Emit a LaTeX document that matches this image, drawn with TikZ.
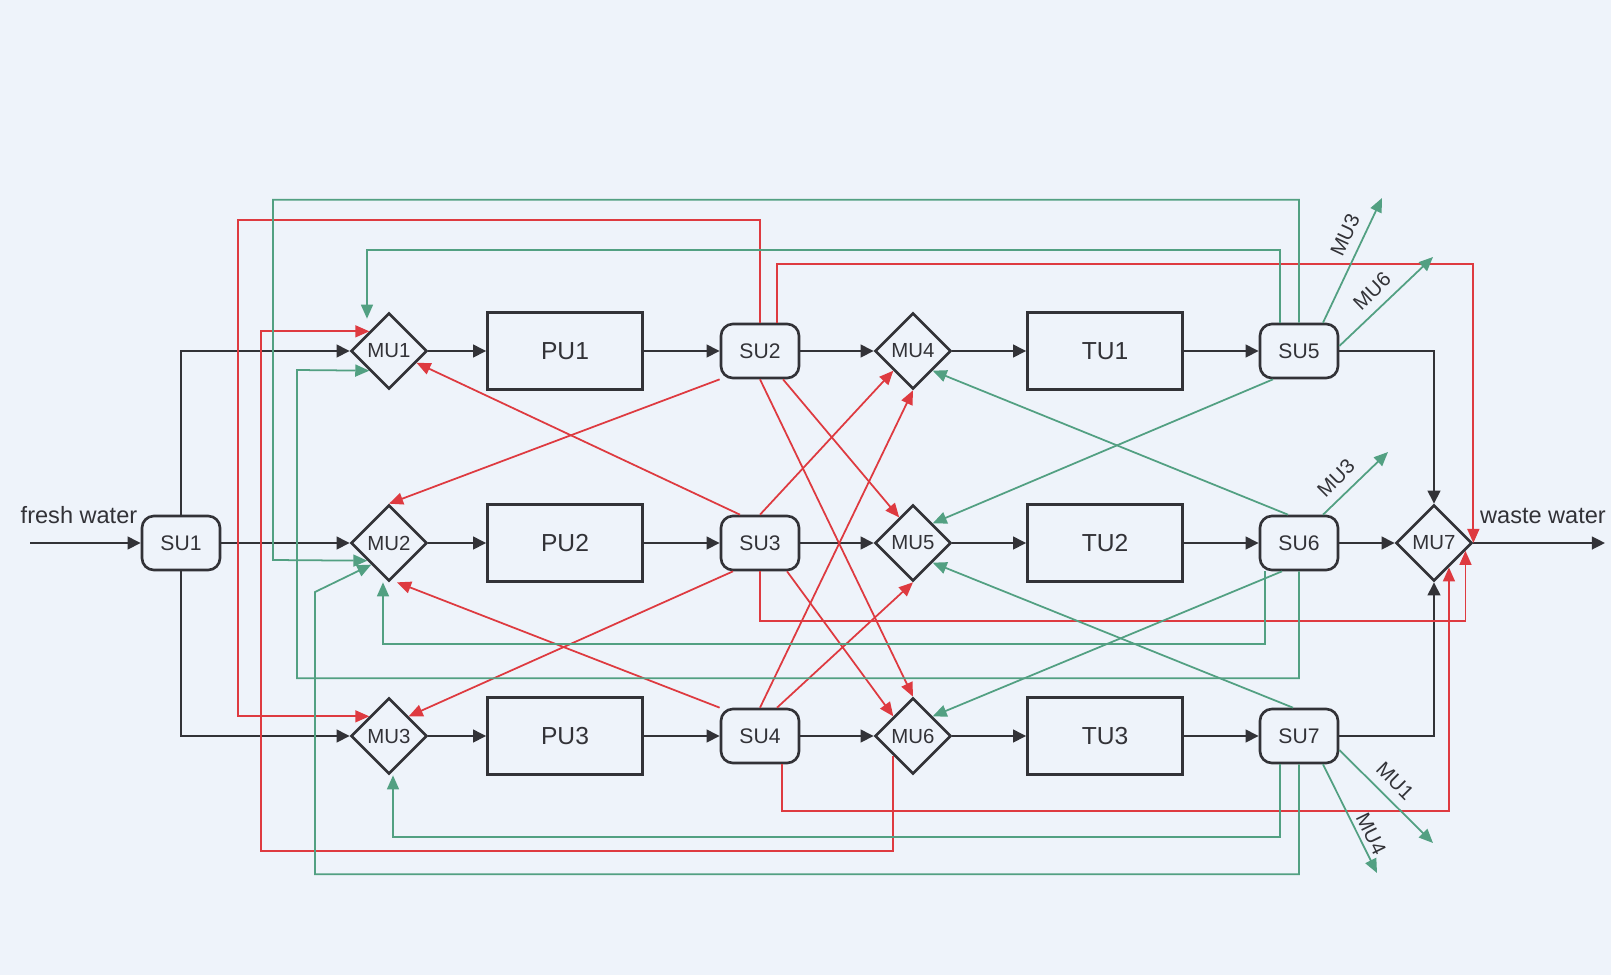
\documentclass[tikz,border=0pt]{standalone}
\usepackage{fontspec}
\setmainfont{Liberation Sans}
\usetikzlibrary{shapes.geometric,arrows.meta,calc}
\definecolor{bgblue}{RGB}{238,243,250}
\definecolor{flowred}{RGB}{222,58,64}
\definecolor{flowgreen}{RGB}{82,160,130}
\definecolor{linegray}{RGB}{50,50,55}
\begin{document}
\begin{tikzpicture}[x=0.01cm, y=-0.01cm,
        splitter/.style={draw=linegray, line width=0.75pt, rounded corners=0.12cm, minimum width=0.78cm, minimum height=0.54cm, inner sep=0pt, font=\fontsize{6}{7}\selectfont, text=linegray},
        mixer/.style={draw=linegray, line width=0.75pt, diamond, minimum width=0.76cm, minimum height=0.76cm, inner sep=0pt, font=\fontsize{5.8}{7}\selectfont, text=linegray},
        unit/.style={draw=linegray, line width=0.75pt, minimum width=1.55cm, minimum height=0.77cm, inner sep=0pt, font=\fontsize{7}{8}\selectfont, text=linegray},
        main/.style={draw=linegray, line width=0.6pt, -{Triangle[length=3.7pt, width=3.6pt]}},
        redflow/.style={draw=flowred, line width=0.5pt, -{Triangle[length=4pt, width=3.4pt]}},
        greenflow/.style={draw=flowgreen, line width=0.5pt, -{Triangle[length=4pt, width=3.4pt]}},
        tag/.style={font=\fontsize{5.8}{7}\selectfont, text=linegray, inner sep=0pt},
        water/.style={font=\fontsize{6.7}{8}\selectfont, text=linegray, inner sep=0pt}]
        \fill[bgblue] (0,0) rectangle (1611,975);
        \useasboundingbox (0,0) rectangle (1611,975);

        \node[splitter] (SU1) at (181,543) {SU1};
        \node[mixer] (MU1) at (389,351) {MU1};
        \node[mixer] (MU2) at (389,543) {MU2};
        \node[mixer] (MU3) at (389,736) {MU3};
        \node[unit] (PU1) at (565,351) {PU1};
        \node[unit] (PU2) at (565,543) {PU2};
        \node[unit] (PU3) at (565,736) {PU3};
        \node[splitter] (SU2) at (760,351) {SU2};
        \node[splitter] (SU3) at (760,543) {SU3};
        \node[splitter] (SU4) at (760,736) {SU4};
        \node[mixer] (MU4) at (913,351) {MU4};
        \node[mixer] (MU5) at (913,543) {MU5};
        \node[mixer] (MU6) at (913,736) {MU6};
        \node[unit] (TU1) at (1105,351) {TU1};
        \node[unit] (TU2) at (1105,543) {TU2};
        \node[unit] (TU3) at (1105,736) {TU3};
        \node[splitter] (SU5) at (1299,351) {SU5};
        \node[splitter] (SU6) at (1299,543) {SU6};
        \node[splitter] (SU7) at (1299,736) {SU7};
        \node[mixer] (MU7) at (1434,543) {MU7};

        \coordinate (fresh) at (30,543);
        \coordinate (waste) at (1605,543);
        \node[water] (freshlabel) at (79,515) {fresh water};
        \node[water] (wastelabel) at (1543,516) {waste water};

        \draw[main] (fresh) -- (SU1.west);
        \draw[main] (SU1.north) |- (MU1.west);
        \draw[main] (SU1.east) -- (MU2.west);
        \draw[main] (SU1.south) |- (MU3.west);
        \foreach \m/\p/\s/\n/\t/\e in {MU1/PU1/SU2/MU4/TU1/SU5, MU2/PU2/SU3/MU5/TU2/SU6, MU3/PU3/SU4/MU6/TU3/SU7} {
            \draw[main] (\m.east) -- (\p.west);
            \draw[main] (\p.east) -- (\s.west);
            \draw[main] (\s.east) -- (\n.west);
            \draw[main] (\n.east) -- (\t.west);
            \draw[main] (\t.east) -- (\e.west);
        }
        \draw[main] (SU5.east) -| (MU7.north);
        \draw[main] (SU6.east) -- (MU7.west);
        \draw[main] (SU7.east) -| (MU7.south);
        \draw[main] (MU7.east) -- (waste);

        \draw[redflow] (SU2.north) |- (238,220) |- ($(MU3.north)!0.5!(MU3.west)$);
        \draw[redflow] ([xshift=0.17cm]SU2.north) -- ++(0,-59) -| (MU7.east);
        \draw[redflow] (SU2.south west) -- (MU2.north);
        \draw[redflow] ([xshift=0.23cm]SU2.south) -- ($(MU5.north)!0.35!(MU5.west)$);
        \draw[redflow] (SU2.south) -- (MU6.north);
        \draw[redflow] ([xshift=-0.2cm]SU3.north) -- ($(MU1.east)!0.3!(MU1.south)$);
        \draw[redflow] (SU3.north) -- ($(MU4.south)!0.5!(MU4.west)$);
        \draw[redflow] ([xshift=-0.27cm]SU3.south) -- ($(MU3.north)!0.5!(MU3.east)$);
        \draw[redflow] ([xshift=0.27cm]SU3.south) -- ($(MU6.north)!0.5!(MU6.west)$);
        \draw[redflow] (SU3.south) -- ++(0,50) -| ($(MU7.east)!0.2!(MU7.south)$);
        \draw[redflow] (SU4.north west) -- ([xshift=0.08cm]MU2.south);
        \draw[redflow] (SU4.north) -- (MU4.south);
        \draw[redflow] ([xshift=0.17cm]SU4.north) -- (MU5.south);
        \draw[redflow] ([xshift=0.22cm]SU4.south) -- ++(0,47) -| ($(MU7.east)!0.62!(MU7.south)$);
        \draw[redflow] ($(MU6.south)!0.5!(MU6.west)$) |- (261,851) |- ($(MU1.north)!0.5!(MU1.west)$);

        \coordinate (su5mu3) at (1382,198);
        \coordinate (su5mu6) at (1433,257);
        \coordinate (su6mu3) at (1388,452);
        \coordinate (su7mu1) at (1433,843);
        \coordinate (su7mu4) at (1377,873);

        \draw[greenflow] ([xshift=-0.19cm]SU5.north) -- ++(0,-73) -| ([xshift=-0.22cm, yshift=-0.07cm]MU1.north);
        \draw[greenflow] (SU5.north) -- ++(0,-123) -| (273,560) -- ($(MU2.west)!0.45!(MU2.south)$);
        \draw[greenflow] ([xshift=0.24cm]SU5.north) -- (su5mu3);
        \draw[greenflow] ([yshift=0.05cm]SU5.east) -- (su5mu6);
        \draw[greenflow] ([xshift=-0.26cm]SU5.south) -- ($(MU5.north)!0.5!(MU5.east)$);
        \draw[greenflow] ([xshift=-0.11cm]SU6.north) -- ($(MU4.south)!0.5!(MU4.east)$);
        \draw[greenflow] ([xshift=0.24cm]SU6.north) -- (su6mu3);
        \draw[greenflow] ([xshift=-0.34cm]SU6.south) -- ++(0,73) -| ([xshift=-0.06cm]MU2.south);
        \draw[greenflow] (SU6.south) -- ++(0,107) -| (297,370) -- ($(MU1.west)!0.5!(MU1.south)$);
        \draw[greenflow] ([xshift=-0.17cm]SU6.south) -- ($(MU6.north)!0.5!(MU6.east)$);
        \draw[greenflow] ([xshift=-0.06cm]SU7.north) -- ($(MU5.south)!0.5!(MU5.east)$);
        \draw[greenflow] ([xshift=-0.19cm]SU7.south) -- ++(0,73) -| ([xshift=0.04cm]MU3.south);
        \draw[greenflow] (SU7.south) -- ++(0,110) -| (315,592) -- ($(MU2.west)!0.55!(MU2.south)$);
        \draw[greenflow] ([yshift=-0.14cm]SU7.east) -- (su7mu1);
        \draw[greenflow] ([xshift=0.24cm]SU7.south) -- (su7mu4);

        \node[tag, rotate=65] (lab53) at (1345,235) {MU3};
        \node[tag, rotate=44] (lab56) at (1372,291) {MU6};
        \node[tag, rotate=45] (lab63) at (1336,478) {MU3};
        \node[tag, rotate=-45] (lab71) at (1395,781) {MU1};
        \node[tag, rotate=-64] (lab74) at (1371,834) {MU4};
\end{tikzpicture}
\end{document}
